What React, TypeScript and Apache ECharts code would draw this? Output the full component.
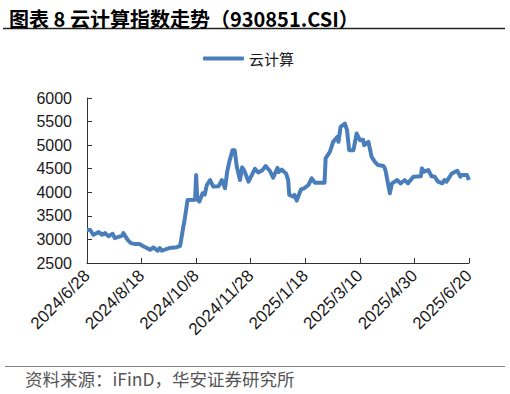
import React, { useEffect, useRef } from "react";
import * as echarts from "echarts";

const seriesName = "云计算";
const titleText = "图表 8 云计算指数走势（930851.CSI）";
const sourceText = "资料来源：iFinD，华安证券研究所";

const dates = [
  "2024-06-28", "2024-07-01", "2024-07-04", "2024-07-09", "2024-07-12", "2024-07-15", "2024-07-18",
  "2024-07-22", "2024-07-24", "2024-07-29", "2024-07-31", "2024-08-01", "2024-08-05", "2024-08-08",
  "2024-08-12", "2024-08-16", "2024-08-20", "2024-08-23", "2024-08-26", "2024-08-29", "2024-09-02",
  "2024-09-04", "2024-09-06", "2024-09-10", "2024-09-13", "2024-09-18", "2024-09-20", "2024-09-23",
  "2024-09-24", "2024-09-26", "2024-09-27", "2024-09-30", "2024-10-07", "2024-10-08", "2024-10-09",
  "2024-10-11", "2024-10-14", "2024-10-16", "2024-10-18", "2024-10-21", "2024-10-24", "2024-10-29",
  "2024-11-01", "2024-11-04", "2024-11-06", "2024-11-08", "2024-11-11", "2024-11-13", "2024-11-15",
  "2024-11-18", "2024-11-20", "2024-11-22", "2024-11-26", "2024-11-29", "2024-12-02", "2024-12-05",
  "2024-12-09", "2024-12-12", "2024-12-16", "2024-12-19", "2024-12-23", "2024-12-24", "2024-12-27",
  "2024-12-31", "2025-01-02", "2025-01-03", "2025-01-07", "2025-01-08", "2025-01-10", "2025-01-14",
  "2025-01-17", "2025-01-21", "2025-01-24", "2025-01-27", "2025-02-05", "2025-02-06", "2025-02-10",
  "2025-02-13", "2025-02-17", "2025-02-18", "2025-02-20", "2025-02-24", "2025-02-26", "2025-02-28",
  "2025-03-04", "2025-03-07", "2025-03-10", "2025-03-13", "2025-03-14", "2025-03-18", "2025-03-21",
  "2025-03-24", "2025-03-27", "2025-04-01", "2025-04-02", "2025-04-03", "2025-04-07", "2025-04-09",
  "2025-04-14", "2025-04-17", "2025-04-21", "2025-04-24", "2025-04-29", "2025-05-06", "2025-05-07",
  "2025-05-09", "2025-05-13", "2025-05-16", "2025-05-19", "2025-05-22", "2025-05-26", "2025-05-28",
  "2025-05-30", "2025-06-04", "2025-06-09", "2025-06-12", "2025-06-13", "2025-06-18", "2025-06-20",
];

const values = [
  3204, 3200, 3098, 3155, 3098, 3134, 3070,
  3120, 3028, 3063, 3084, 3134, 2992, 2922,
  2901, 2901, 2851, 2817, 2781, 2830, 2760,
  2817, 2760, 2795, 2817, 2830, 2836, 2865,
  2990, 3273, 3380, 3838, 3840, 4366, 3874,
  3802, 3980, 3950, 4155, 4260, 4120, 4130,
  4260, 4085, 4436, 4647, 4894, 4894, 4541,
  4260, 4528, 4460, 4225, 4366, 4500, 4420,
  4470, 4556, 4450, 4310, 4520, 4430, 4480,
  4400, 4260, 3943, 3907, 3943, 3823, 4063,
  4085, 4155, 4296, 4203, 4203, 4719, 4858,
  5070, 5175, 5070, 5387, 5458, 5317, 4894,
  4894, 5247, 5105, 5115, 5000, 5070, 4752,
  4647, 4577, 4556, 4528, 4460, 3980, 4190,
  4260, 4190, 4260, 4190, 4330, 4340, 4507,
  4436, 4470, 4340, 4330, 4225, 4190, 4260,
  4225, 4400, 4457, 4330, 4366, 4366, 4260,
];

const startDate = "2024-06-28";
const endDate = "2025-06-20";
const tickStepDays = 51;
const yTicks = [2500, 3000, 3500, 4000, 4500, 5000, 5500, 6000];

const DAY = 86400000;
const toUtc = (s: string) => {
  const [y, m, d] = s.split("-").map(Number);
  return Date.UTC(y, m - 1, d);
};
const base = toUtc(startDate);
const offsetOf = (s: string) => Math.round((toUtc(s) - base) / DAY);
const labelOf = (off: number) => {
  const d = new Date(base + off * DAY);
  return `${d.getUTCFullYear()}/${d.getUTCMonth() + 1}/${d.getUTCDate()}`;
};

const labelFont = "'Liberation Sans', Arial, sans-serif";
const cjkFont = "'Noto Sans CJK SC', sans-serif";

export default function App() {
  const ref = useRef<HTMLDivElement>(null);
  useEffect(() => {
    if (!ref.current) return;
    const chart = echarts.init(ref.current, null, { renderer: "svg" });
    const data = dates.map((d, i) => [offsetOf(d), values[i]]);
    chart.setOption({
      animation: false,
      backgroundColor: "#ffffff",
      title: {
        text: titleText,
        left: 4,
        top: 3,
        textStyle: {
          fontFamily: cjkFont,
          fontSize: 20,
          fontWeight: "bold",
          color: "#000000",
        },
      },
      legend: {
        data: [seriesName],
        left: 203,
        top: 51,
        padding: 0,
        icon: "roundRect",
        itemWidth: 41,
        itemHeight: 4,
        textStyle: {
          fontFamily: cjkFont,
          fontSize: 15,
          color: "#1a1a1a",
        },
      },
      grid: { left: 87, right: 41, top: 98, bottom: 131, containLabel: false },
      xAxis: {
        type: "value",
        min: 0,
        max: offsetOf(endDate),
        interval: tickStepDays,
        splitLine: { show: false },
        axisLine: { show: true, lineStyle: { color: "#333333", width: 1 } },
        axisTick: { show: true, inside: true, length: 5, lineStyle: { color: "#333333" } },
        axisLabel: {
          rotate: 45,
          margin: 10,
          fontSize: 17,
          fontFamily: labelFont,
          color: "#1a1a1a",
          showMinLabel: true,
          showMaxLabel: true,
          formatter: (v: number) => labelOf(v),
        },
      },
      yAxis: {
        type: "value",
        min: yTicks[0],
        max: yTicks[yTicks.length - 1],
        interval: 500,
        splitLine: { show: false },
        axisLine: { show: true, lineStyle: { color: "#333333", width: 1 } },
        axisTick: { show: true, inside: true, length: 5, lineStyle: { color: "#333333" } },
        axisLabel: {
          margin: 15,
          fontSize: 16,
          fontFamily: labelFont,
          color: "#1a1a1a",
          formatter: (v: number) => String(v),
        },
      },
      series: [
        {
          name: seriesName,
          type: "line",
          data,
          showSymbol: false,
          symbol: "none",
          lineStyle: { color: "#4a7ebb", width: 4, join: "round" },
          itemStyle: { color: "#4a7ebb" },
        },
      ],
      graphic: [
        {
          type: "line",
          shape: { x1: 3, y1: 28.5, x2: 505, y2: 28.5 },
          style: { stroke: "#222222", lineWidth: 1.3 },
        },
        {
          type: "line",
          shape: { x1: 5, y1: 366.5, x2: 505, y2: 366.5 },
          style: { stroke: "#808080", lineWidth: 1 },
        },
        {
          type: "text",
          left: 25,
          top: 370,
          style: {
            text: sourceText,
            fontFamily: cjkFont,
            fontSize: 17.5,
            fill: "#555555",
          },
        },
      ],
    });
    return () => chart.dispose();
  }, []);
  return (
    <div
      ref={ref}
      style={{ position: "absolute", left: 0, top: 0, width: 510, height: 394, background: "#fff" }}
    />
  );
}
